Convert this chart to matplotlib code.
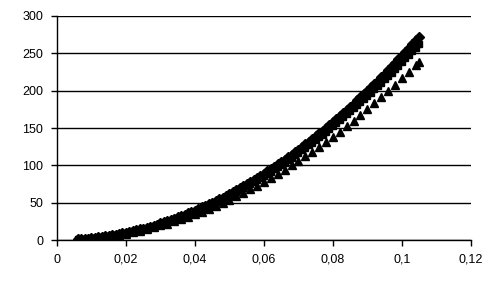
import numpy as np
import matplotlib
matplotlib.use("Agg")
import matplotlib.pyplot as plt

# strain values for the diamond and square series
x_dense = [0.006, 0.007, 0.008, 0.009, 0.010, 0.011, 0.012, 0.013, 0.014, 0.015,
           0.016, 0.017, 0.018, 0.019, 0.020, 0.021, 0.022, 0.023, 0.024, 0.025,
           0.026, 0.027, 0.028, 0.029, 0.030, 0.031, 0.032, 0.033, 0.034, 0.035,
           0.036, 0.037, 0.038, 0.039, 0.040, 0.041, 0.042, 0.043, 0.044, 0.045,
           0.046, 0.047, 0.048, 0.049, 0.050, 0.051, 0.052, 0.053, 0.054, 0.055,
           0.056, 0.057, 0.058, 0.059, 0.060, 0.061, 0.062, 0.063, 0.064, 0.065,
           0.066, 0.067, 0.068, 0.069, 0.070, 0.071, 0.072, 0.073, 0.074, 0.075,
           0.076, 0.077, 0.078, 0.079, 0.080, 0.081, 0.082, 0.083, 0.084, 0.085,
           0.086, 0.087, 0.088, 0.089, 0.090, 0.091, 0.092, 0.093, 0.094, 0.095,
           0.096, 0.097, 0.098, 0.099, 0.100, 0.101, 0.102, 0.103, 0.104, 0.105]

diamonds = [0.9, 1.2, 1.6, 2.0, 2.5, 3.0, 3.6, 4.2, 4.8, 5.6,
            6.3, 7.1, 8.0, 8.9, 9.9, 10.9, 12.0, 13.1, 14.2, 15.4,
            16.7, 18.0, 19.4, 20.8, 22.2, 23.7, 25.3, 26.9, 28.6, 30.3,
            32.0, 33.8, 35.7, 37.6, 39.5, 41.5, 43.6, 45.7, 47.8, 50.0,
            52.3, 54.6, 56.9, 59.3, 61.8, 64.2, 66.8, 69.4, 72.0, 74.7,
            77.5, 80.3, 83.1, 86.0, 88.9, 91.9, 95.0, 98.0, 101.2, 104.4,
            107.6, 110.9, 114.2, 117.6, 121.0, 124.5, 128.0, 131.6, 135.3, 138.9,
            142.7, 146.5, 150.3, 154.2, 158.1, 162.1, 166.1, 170.2, 174.3, 178.5,
            182.7, 187.0, 191.3, 195.7, 200.1, 204.5, 209.1, 213.6, 218.3, 222.9,
            227.6, 232.4, 237.2, 242.1, 247.0, 252.0, 257.0, 262.0, 267.2, 272.3]

squares = [0.9, 1.2, 1.5, 1.9, 2.4, 2.9, 3.4, 4.0, 4.7, 5.4,
           6.1, 6.9, 7.7, 8.6, 9.5, 10.5, 11.5, 12.6, 13.7, 14.9,
           16.1, 17.4, 18.7, 20.0, 21.5, 22.9, 24.4, 26.0, 27.6, 29.2,
           30.9, 32.6, 34.4, 36.3, 38.1, 40.1, 42.0, 44.1, 46.1, 48.3,
           50.4, 52.7, 54.9, 57.2, 59.6, 62.0, 64.5, 67.0, 69.5, 72.1,
           74.7, 77.4, 80.2, 83.0, 85.8, 88.7, 91.6, 94.6, 97.6, 100.7,
           103.8, 107.0, 110.2, 113.5, 116.8, 120.2, 123.6, 127.0, 130.5, 134.1,
           137.7, 141.3, 145.0, 148.8, 152.5, 156.4, 160.3, 164.2, 168.2, 172.2,
           176.3, 180.4, 184.6, 188.8, 193.1, 197.4, 201.8, 206.2, 210.6, 215.1,
           219.7, 224.3, 228.9, 233.6, 238.4, 243.1, 248.0, 252.9, 257.8, 262.8]

# strain values for the triangle series
x_tri = [0.006, 0.008, 0.010, 0.012, 0.014, 0.016, 0.018, 0.020, 0.022, 0.024,
         0.026, 0.028, 0.030, 0.032, 0.034, 0.036, 0.038, 0.040, 0.042, 0.044,
         0.046, 0.048, 0.050, 0.052, 0.054, 0.056, 0.058, 0.060, 0.062, 0.064,
         0.066, 0.068, 0.070, 0.072, 0.074, 0.076, 0.078, 0.080, 0.082, 0.084,
         0.086, 0.088, 0.090, 0.092, 0.094, 0.096, 0.098, 0.100, 0.102, 0.104, 0.105]

triangles = [0.8, 1.4, 2.2, 3.1, 4.2, 5.5, 7.0, 8.6, 10.5, 12.5,
             14.6, 16.9, 19.5, 22.1, 25.0, 28.0, 31.2, 34.6, 38.1, 41.8,
             45.7, 49.8, 54.0, 58.4, 63.0, 67.8, 72.7, 77.8, 83.1, 88.5,
             94.1, 99.9, 105.9, 112.0, 118.3, 124.8, 131.5, 138.3, 145.3, 152.5,
             159.9, 167.4, 175.1, 183.0, 191.1, 199.3, 207.7, 216.4, 225.2, 234.1, 238.3]

xticks = [0, 0.02, 0.04, 0.06, 0.08, 0.1, 0.12]
xlabels = ["0", "0,02", "0,04", "0,06", "0,08", "0,1", "0,12"]
yticks = [0, 50, 100, 150, 200, 250, 300]

plt.rcParams['font.family'] = ['Liberation Sans', 'DejaVu Sans']

fig = plt.figure(figsize=(4.91, 2.96), dpi=100)
ax = fig.add_axes([0.116, 0.189, 0.843, 0.757])

ax.plot(x_tri, triangles, linestyle='none', marker='^', markersize=5.8, color='black')
ax.plot(x_dense, squares, linestyle='none', marker='s', markersize=4.8, color='black')
ax.plot(x_dense, diamonds, linestyle='none', marker='D', markersize=5, color='black')

ax.set_xlim(0, 0.12)
ax.set_ylim(0, 300)
ax.set_xticks(xticks)
ax.set_xticklabels(xlabels)
ax.set_yticks(yticks)
ax.yaxis.grid(True, color='black', linewidth=1)
ax.set_axisbelow(True)

for s in ['top', 'right']:
    ax.spines[s].set_visible(False)
for s in ['left', 'bottom']:
    ax.spines[s].set_color('black')
    ax.spines[s].set_linewidth(1)

ax.tick_params(axis='both', direction='out', length=4, width=1, colors='black', labelsize=9)
ax.tick_params(axis='x', pad=6)
ax.tick_params(axis='y', pad=6)

fig.savefig("out.png", dpi=100)
